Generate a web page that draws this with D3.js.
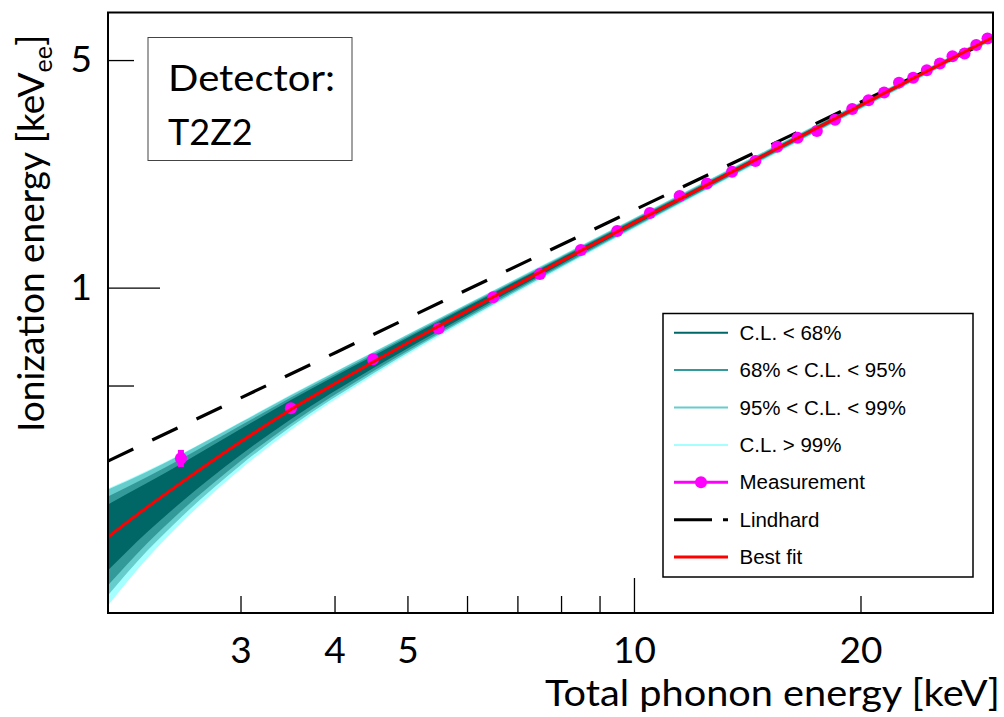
<!DOCTYPE html>
<html>
<head>
<meta charset="utf-8">
<script src="https://cdn.jsdelivr.net/npm/d3@7"></script>
<style>
body{margin:0;background:#fff}
svg{display:block}
</style>
</head>
<body>
<svg></svg>
<script>
// measurement points (total phonon energy, ionization energy)
const measE = [2.5,3.5,4.5,5.5,6.5,7.5,8.5,9.5,10.5,11.5,12.5,13.5,14.5,15.5,16.5,17.5,18.5,19.5,20.5,21.5,22.5,23.5,24.5,25.5,26.5,27.5,28.5,29.5]
const measY = [0.299,0.426,0.602,0.749,0.933,1.100,1.305,1.491,1.694,1.910,2.089,2.268,2.446,2.706,2.888,3.029,3.277,3.538,3.765,3.977,4.262,4.409,4.656,4.881,5.14,5.24,5.565,5.827]
const measErr = [0.018,0.008,0.008,0.01,0.01,0.012,0.012,0.014,0.015,0.016,0.018,0.02,0.02,0.022,0.024,0.025,0.027,0.03,0.03,0.032,0.034,0.036,0.038,0.04,0.04,0.042,0.045,0.05]

// Lindhard prediction
const lindE = [2,3,5,10,20,30]
const lindY = [0.293,0.4576,0.805,1.729,3.71,5.80]

// best fit
const fitE = [2,2.25,2.5,3,3.5,4,4.5,5,6,8,10,15,20,30]
const fitY = [0.1713,0.2107,0.2511,0.3358,0.4220,0.5061,0.5904,0.6753,0.8475,1.2054,1.5801,2.5725,3.6266,5.8749]

// confidence bands
const bandE   = [2,2.25,2.5,3,3.5,4.5,6,8,10,15,20,30]
const cl68Hi  = [0.2156,0.2504,0.2872,0.3676,0.4510,0.6164,0.8724,1.2312,1.6071,2.6054,3.6654,5.9248]
const cl68Lo  = [0.1352,0.1764,0.2186,0.3059,0.3940,0.5647,0.8227,1.1801,1.5524,2.5383,3.5882,5.8250]
const cl95Hi  = [0.2281,0.2612,0.2973,0.3766,0.4594,0.6243,0.8805,1.2400,1.6185,2.6201,3.6835,5.9542]
const cl95Lo  = [0.1216,0.1629,0.2053,0.2932,0.3817,0.5528,0.8105,1.1660,1.5371,2.5203,3.5631,5.7927]
const cl99Hi  = [0.2397,0.2714,0.3063,0.3846,0.4669,0.6318,0.8886,1.2488,1.6289,2.6350,3.7017,5.9795]
const cl99Lo  = [0.1133,0.1544,0.1967,0.2846,0.3734,0.5443,0.8015,1.1561,1.5262,2.5043,3.5428,5.7598]
const clOutHi = [0.2414,0.2731,0.3080,0.3865,0.4689,0.6341,0.8917,1.2541,1.6346,2.6445,3.7147,6.0012]
const clOutLo = [0.1055,0.1463,0.1886,0.2765,0.3650,0.5363,0.7930,1.1464,1.5145,2.4884,3.5229,5.7316]

// ticks
const xMinor = [3,4,5,6,7,8,9,20]
const xMajor = [10]
const xLabels = [3,4,5,10,20]
const yMinor = [0.5,5]
const yMajor = [1]
const yLabels = [1,5]

const legendLabels = ["C.L. < 68%","68% < C.L. < 95%","95% < C.L. < 99%","C.L. > 99%","Measurement","Lindhard","Best fit"]

const bandColors = ["#a6ffff","#66cccc","#339999","#006666"]

let width = 1004
let height = 717
let padL = 108, padR = 993, padT = 12.5, padB = 613
const font = "Lato, 'Open Sans', sans-serif"

let svg = d3.select('svg').attr('width', width).attr('height', height)

let xScale = d3.scaleLog().domain([2,30]).range([padL,padR])
let yScale = d3.scaleLog().domain([0.1,7]).range([padB,padT])

svg.append('clipPath').attr('id','plot')
   .append('rect').attr('x',padL).attr('y',padT).attr('width',padR-padL).attr('height',padB-padT)

let plot = svg.append('g').attr('clip-path','url(#plot)')

// bands, outermost first
let bands = [[clOutLo,clOutHi],[cl99Lo,cl99Hi],[cl95Lo,cl95Hi],[cl68Lo,cl68Hi]]
bands.forEach((b,i) => {
    let area = d3.area()
        .x((d,j) => xScale(bandE[j]))
        .y0((d,j) => yScale(b[0][j]))
        .y1((d,j) => yScale(b[1][j]))
        .curve(d3.curveMonotoneX)
    plot.append('path')
        .datum(bandE)
        .attr('d', area)
        .attr('fill', bandColors[i])
})

// Lindhard
let lindLine = d3.line()
    .x((d,i) => xScale(lindE[i]))
    .y((d,i) => yScale(lindY[i]))
    .curve(d3.curveMonotoneX)
plot.append('path')
    .datum(lindE)
    .attr('d', lindLine)
    .attr('fill','none')
    .attr('stroke','#000')
    .attr('stroke-width',3.2)
    .attr('stroke-dasharray','28,21')

// measurement
plot.selectAll('.err')
    .data(measE)
    .enter()
    .append('line')
    .attr('x1',(d) => xScale(d))
    .attr('x2',(d) => xScale(d))
    .attr('y1',(d,i) => yScale(measY[i]-measErr[i]))
    .attr('y2',(d,i) => yScale(measY[i]+measErr[i]))
    .attr('stroke','#ff00ff')
    .attr('stroke-width',6)

plot.selectAll('.dot')
    .data(measE)
    .enter()
    .append('circle')
    .attr('cx',(d) => xScale(d))
    .attr('cy',(d,i) => yScale(measY[i]))
    .attr('r',6)
    .attr('fill','#ff00ff')

// best fit
let fitLine = d3.line()
    .x((d,i) => xScale(fitE[i]))
    .y((d,i) => yScale(fitY[i]))
    .curve(d3.curveMonotoneX)
plot.append('path')
    .datum(fitE)
    .attr('d', fitLine)
    .attr('fill','none')
    .attr('stroke','#ff0000')
    .attr('stroke-width',3)

// frame
svg.append('rect')
   .attr('x',padL).attr('y',padT)
   .attr('width',padR-padL).attr('height',padB-padT)
   .attr('fill','none').attr('stroke','#000').attr('stroke-width',2)

// ticks
let drawTicks = (axis, vals, size, tr) => {
    svg.append('g')
       .attr('transform', tr)
       .call(axis.tickValues(vals).tickSize(size).tickFormat(''))
       .call(g => g.select('.domain').remove())
       .selectAll('line').attr('stroke','#000').attr('stroke-width',1.3)
}
drawTicks(d3.axisBottom(xScale), xMinor, -17, 'translate(0,' + padB + ')')
drawTicks(d3.axisBottom(xScale), xMajor, -35, 'translate(0,' + padB + ')')
drawTicks(d3.axisLeft(yScale), yMinor, -26, 'translate(' + padL + ',0)')
drawTicks(d3.axisLeft(yScale), yMajor, -52, 'translate(' + padL + ',0)')

svg.append('g')
   .attr('transform','translate(0,' + padB + ')')
   .call(d3.axisBottom(xScale).tickValues(xLabels).tickSize(0).tickPadding(24).tickFormat(d3.format('d')))
   .call(g => g.select('.domain').remove())
   .selectAll('text')
   .attr('font-family',font).attr('font-size',37).attr('fill','#000')

svg.append('g')
   .attr('transform','translate(' + padL + ',0)')
   .call(d3.axisLeft(yScale).tickValues(yLabels).tickSize(0).tickPadding(16).tickFormat(d3.format('d')))
   .call(g => g.select('.domain').remove())
   .selectAll('text')
   .attr('font-family',font).attr('font-size',37).attr('fill','#000')

// axis titles
svg.append('text')
   .attr('x',1000).attr('y',706)
   .attr('text-anchor','end')
   .attr('font-family',font).attr('font-size',37)
   .attr('textLength',455).attr('lengthAdjust','spacingAndGlyphs')
   .text('Total phonon energy [keV]')

let yTitle = svg.append('text')
   .attr('transform','translate(44,432) rotate(-90)')
   .attr('font-family',font).attr('font-size',37)
yTitle.append('tspan').text('Ionization energy [keV')
yTitle.append('tspan').attr('font-size',25).attr('dy',8).text('ee')
yTitle.append('tspan').attr('dy',-8).text(']')

// detector box
svg.append('rect')
   .attr('x',148).attr('y',37.5).attr('width',204).attr('height',123)
   .attr('fill','#fff').attr('stroke','#444').attr('stroke-width',1)
svg.append('text')
   .attr('x',168).attr('y',91)
   .attr('font-family',font).attr('font-size',36)
   .attr('textLength',167).attr('lengthAdjust','spacingAndGlyphs')
   .text('Detector:')
svg.append('text')
   .attr('x',168).attr('y',145)
   .attr('font-family',font).attr('font-size',36)
   .text('T2Z2')

// legend
let lg = svg.append('g')
lg.append('rect')
  .attr('x',663).attr('y',313.5).attr('width',310).attr('height',263.5)
  .attr('fill','#fff').attr('stroke','#000').attr('stroke-width',1.5)

let rowY = (i) => 332.7 + i*37.4
let legendColors = ["#006666","#339999","#66cccc","#a6ffff"]
legendColors.forEach((c,i) => {
    lg.append('line').attr('x1',674).attr('x2',728).attr('y1',rowY(i)).attr('y2',rowY(i))
      .attr('stroke',c).attr('stroke-width',2)
})
lg.append('line').attr('x1',674).attr('x2',728).attr('y1',rowY(4)).attr('y2',rowY(4))
  .attr('stroke','#ff00ff').attr('stroke-width',3)
lg.append('circle').attr('cx',701).attr('cy',rowY(4)).attr('r',6).attr('fill','#ff00ff')
lg.append('line').attr('x1',674).attr('x2',728).attr('y1',rowY(5)).attr('y2',rowY(5))
  .attr('stroke','#000').attr('stroke-width',3).attr('stroke-dasharray','38,11,6')
lg.append('line').attr('x1',674).attr('x2',728).attr('y1',rowY(6)).attr('y2',rowY(6))
  .attr('stroke','#ff0000').attr('stroke-width',3)

lg.selectAll('.lt')
  .data(legendLabels)
  .enter()
  .append('text')
  .attr('x',739.5)
  .attr('y',(d,i) => rowY(i) + 7)
  .attr('font-family',"'Liberation Sans', Arial, sans-serif")
  .attr('font-size',20.5)
  .text((d) => d)
</script>
</body>
</html>
